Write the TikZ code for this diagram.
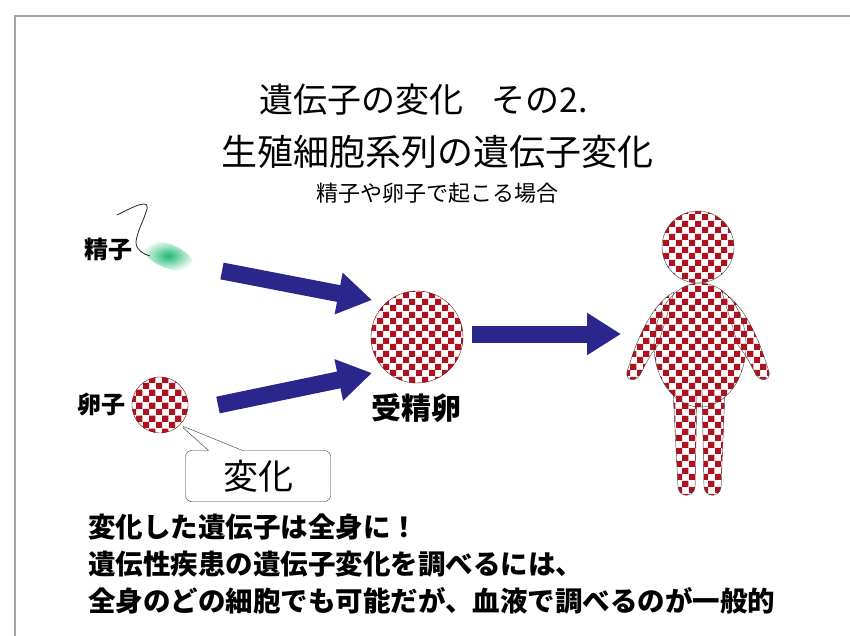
\documentclass[tikz,border=0pt]{standalone}
\usepackage{fontspec}
\setmainfont{Noto Sans CJK JP}
\usetikzlibrary{arrows.meta}
\usetikzlibrary{patterns}
\usetikzlibrary{shapes.callouts}

\definecolor{checkred}{RGB}{175,18,30}
\definecolor{arrowblue}{RGB}{42,38,140}
\definecolor{framegray}{RGB}{172,162,162}
\definecolor{headgreen}{RGB}{30,185,115}

% red and white squares for the cells
\pgfdeclarepatternformonly{redchecks}{\pgfpointorigin}{\pgfqpoint{13pt}{13pt}}{\pgfqpoint{13pt}{13pt}}{%
  \pgfpathrectangle{\pgfpointorigin}{\pgfqpoint{6.5pt}{6.5pt}}%
  \pgfpathrectangle{\pgfqpoint{6.5pt}{6.5pt}}{\pgfqpoint{6.5pt}{6.5pt}}%
  \pgfusepath{fill}}

\begin{document}
\begin{tikzpicture}
[x=1pt,y=-1pt,%
  checks/.style={pattern=redchecks,pattern color=checkred},%
  cell/.style={shape=circle,draw=checkred!60!black,checks,inner sep=0pt},%
  figure/.style={draw=black!75,checks},%
  bigarrow/.style={arrowblue,line width=17pt,-{Triangle[length=34pt,width=40pt]}},%
  tag/.style={inner sep=0pt,font=\bfseries\fontsize{24}{24}\selectfont}]
\useasboundingbox (0,0) rectangle (850,636);
\draw[framegray,line width=1.5pt] (15,636) -- (15,16) -- (850,16);

% headings
\node (title) at (424,100) {\fontsize{34}{34}\selectfont 遺伝子の変化\hspace{28pt}その2.};
\node (title2) at (437,152) {\fontsize{36}{36}\selectfont 生殖細胞系列の遺伝子変化};
\node (sub) at (437,193) {\fontsize{22}{22}\selectfont 精子や卵子で起こる場合};

% sperm
\node[tag] (spermlbl) at (108,249) {精子};
\coordinate (sperm) at (168,256);
\shade[inner color=headgreen,outer color=white,rotate around={-22:(sperm)}]
  (sperm) ellipse [x radius=27pt,y radius=12pt];
\draw[black!85,line width=0.8pt] (117,215) .. controls (135,206) and (152,197) .. (146,212)
  .. controls (143,222) and (137,232) .. (136,242)
  .. controls (136,250) and (143,254) .. (150,256);

% egg and fertilised egg
\node[cell,minimum size=56pt] (egg) at (160,405) {};
\node[tag] (egglbl) at (101,404) {卵子};
\node[cell,minimum size=92pt] (zygote) at (417,337) {};
\node[tag,font=\bfseries\fontsize{30}{30}\selectfont] (zyglbl) at (416,408) {受精卵};

\node[rectangle callout,draw=black!80,fill=white,rounded corners=6pt,
  minimum width=145pt,minimum height=51pt,
  callout absolute pointer={(egg.-45)},callout pointer width=34pt,
  font=\fontsize{35}{35}\selectfont] (change) at (258,476) {変化};

% arrows
\coordinate (a1s) at (222,271);
\coordinate (a1e) at (372,300);
\coordinate (a2s) at (218,405);
\coordinate (a2e) at (372,373);
\coordinate (a3s) at (472,334);
\coordinate (a3e) at (621,334);
\draw[bigarrow] (a1s) -- (a1e);
\draw[bigarrow] (a2s) -- (a2e);
\draw[bigarrow] (a3s) -- (a3e);

% the person
\path[figure] (673,390) -- (678,487) .. controls (679,498) and (694,498) .. (695,487) -- (697,390) -- cycle;
\path[figure] (702,390) -- (704,487) .. controls (705,498) and (720,498) .. (721,487) -- (725,390) -- cycle;
\path[figure] (674,292) .. controls (650,305) and (635,345) .. (627,372)
  .. controls (625,381) and (636,382) .. (640,375)
  .. controls (645,365) and (650,355) .. (658,345) -- cycle;
\path[figure] (722,292) .. controls (746,305) and (761,345) .. (769,372)
  .. controls (771,381) and (760,382) .. (756,375)
  .. controls (751,365) and (746,355) .. (738,345) -- cycle;
\path[figure] (700,345) ellipse [x radius=46pt,y radius=62pt];
\path[figure] (698,247) circle [radius=36pt];

% message at the bottom
\node[anchor=west,align=left,inner sep=0pt,font=\bfseries\fontsize{27.5}{37}\selectfont] (note) at (88,564)
  {変化した遺伝子は全身に！\\遺伝性疾患の遺伝子変化を調べるには、\\全身のどの細胞でも可能だが、血液で調べるのが一般的};
\end{tikzpicture}
\end{document}
